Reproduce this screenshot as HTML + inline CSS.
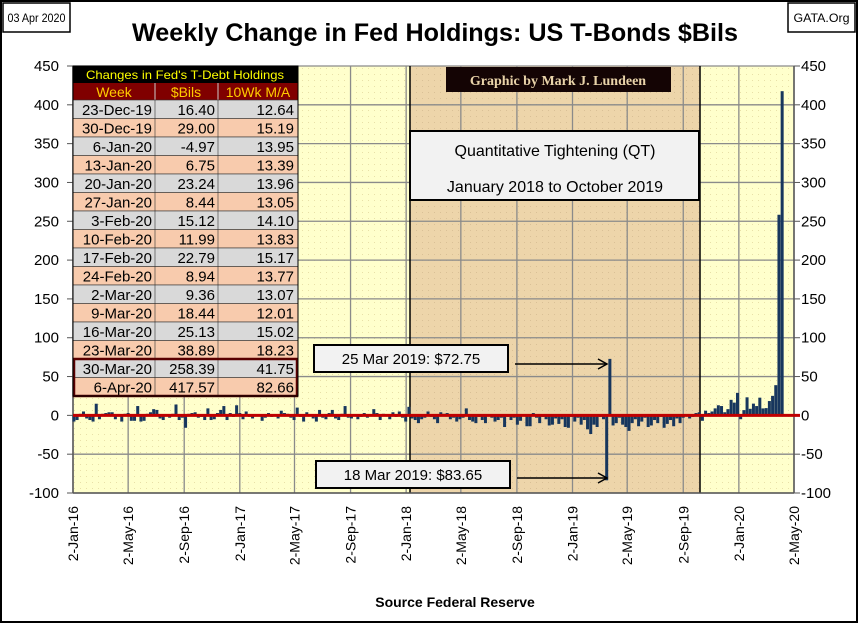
<!DOCTYPE html>
<html><head><meta charset="utf-8"><style>
html,body{margin:0;padding:0;background:#fff}
svg{display:block;font-family:"Liberation Sans",sans-serif}
</style></head><body>
<svg id="chart" width="858" height="623" viewBox="0 0 858 623" xmlns="http://www.w3.org/2000/svg">
<defs>
<pattern id="dotY" width="6" height="6" patternUnits="userSpaceOnUse"><rect width="6" height="6" fill="#FFFFCC"/><rect x="2" y="2" width="1" height="1" fill="#E8E0A8"/></pattern>
<pattern id="dotT" width="6" height="6" patternUnits="userSpaceOnUse"><rect width="6" height="6" fill="#EDD5AA"/><rect x="2" y="2" width="1" height="1" fill="#D9C096"/></pattern>
</defs>
<rect x="1" y="1" width="856" height="621" fill="#fff" stroke="#000" stroke-width="2"/>
<rect x="3" y="3" width="67" height="29" fill="#fff" stroke="#000" stroke-width="1.5"/>
<text x="36.5" y="22" font-size="12" text-anchor="middle" textLength="58" lengthAdjust="spacingAndGlyphs">03 Apr 2020</text>
<rect x="788" y="3" width="67" height="29" fill="#fff" stroke="#000" stroke-width="1.5"/>
<text x="821.5" y="22" font-size="12" text-anchor="middle" textLength="56" lengthAdjust="spacingAndGlyphs">GATA.Org</text>
<text x="435" y="41" font-size="25" font-weight="bold" text-anchor="middle" textLength="606" lengthAdjust="spacingAndGlyphs">Weekly Change in Fed Holdings:  US T-Bonds $Bils</text>
<g id="plot"></g>
<text x="455" y="607" font-size="14" font-weight="bold" text-anchor="middle">Source Federal Reserve</text>
</svg>
<script>
const yTicks=[450,400,350,300,250,200,150,100,50,0,-50,-100];
const xTickLabels=["2-Jan-16","2-May-16","2-Sep-16","2-Jan-17","2-May-17","2-Sep-17","2-Jan-18","2-May-18","2-Sep-18","2-Jan-19","2-May-19","2-Sep-19","2-Jan-20","2-May-20"];
const xTickDates=["2016-01-02","2016-05-02","2016-09-02","2017-01-02","2017-05-02","2017-09-02","2018-01-02","2018-05-02","2018-09-02","2019-01-02","2019-05-02","2019-09-02","2020-01-02","2020-05-02"];
const firstWeek="2016-01-04";
const weeklyChange=[
-8,-6,2,5,-4,-6,-8,15,-5,2,3,4,4,-5,1,-8,2,3,-7,-7,12,-8,-7,2,4,8,7,-4,-6,1,-3,2,14,-6,-3,-16,2,3,4,-3,-2,-6,9,-6,-5,3,7,12,-6,3,-2,13,
3,-5,5,-2,-4,0,1,-7,-3,3,-2,1,-4,6,3,2,-3,-6,10,-2,-8,4,1,-4,-8,7,-3,-5,3,7,-4,-6,2,12,-3,-4,1,-5,-2,3,-3,-1,8,3,-6,2,0,-5,4,-2,5,-3,
-8,11,-4,-6,-10,-5,-3,5,-2,-5,-10,4,2,3,-5,-3,-8,-5,-3,9,-6,-8,-10,-2,-6,-10,0,-3,-8,-6,-3,-15,-2,-6,-3,-12,-7,1,-14,-14,3,-3,-10,-2,-5,-13,-12,-4,-11,-5,-15,-16,-2,-8,-3,-12,-6,-18,-24,-12,-15,-2,-5,-83.65,72.75,-13,-10,-3,-12,-15,-20,-10,-5,-14,-8,-3,-15,-13,-6,-10,-2,-16,-11,-6,-14,-4,-10,-3,-1,-4,-2,3,4,
-7,6,3,5,9,13,12,4,8,20,
16.40,29.00,-4.97,6.75,23.24,8.44,15.12,11.99,22.79,8.94,9.36,18.44,25.13,38.89,258.39,417.57];
const tableWeeks=["23-Dec-19","30-Dec-19","6-Jan-20","13-Jan-20","20-Jan-20","27-Jan-20","3-Feb-20","10-Feb-20","17-Feb-20","24-Feb-20","2-Mar-20","9-Mar-20","16-Mar-20","23-Mar-20","30-Mar-20","6-Apr-20"];
const tableBils=["16.40","29.00","-4.97","6.75","23.24","8.44","15.12","11.99","22.79","8.94","9.36","18.44","25.13","38.89","258.39","417.57"];
const tableMA=["12.64","15.19","13.95","13.39","13.96","13.05","14.10","13.83","15.17","13.77","13.07","12.01","15.02","18.23","41.75","82.66"];

const NS="http://www.w3.org/2000/svg";
const g=document.getElementById('plot');
const X0=73,X1=794,YT=66,YB=493;
const d0=Date.parse("2016-01-02"),d1=Date.parse("2020-05-02");
const xS=t=>X0+(t-d0)/(d1-d0)*(X1-X0);
const yS=v=>YB-(v+100)/550*(YB-YT);
function mk(tag,at,parent){const e=document.createElementNS(NS,tag);for(const k in at)e.setAttribute(k,at[k]);(parent||g).appendChild(e);return e;}
let e=mk('rect',{x:X0,y:YT,width:X1-X0,height:YB-YT,fill:'url(#dotY)'});


const qs=410,qe=700;
e=mk('rect',{x:qs,y:YT,width:qe-qs,height:YB-YT,fill:'url(#dotT)'});


yTicks.forEach(v=>{
 const y=yS(v);
 e=mk('line',{x1:X0,x2:X1,y1:y,y2:y,stroke:'#8a8a8a','stroke-width':1.3});
 
 
 e=mk('line',{x1:X0-6,x2:X0,y1:y,y2:y,stroke:'#555'});
 e=mk('line',{x1:X1,x2:X1+6,y1:y,y2:y,stroke:'#555'});
 e=mk('text',{x:59,y:y+5,'font-size':15,'text-anchor':'end'});e.textContent=v;
 
 
 e=mk('text',{x:801,y:y+5,'font-size':15});e.textContent=v;
 
 
});
xTickDates.forEach((d,i)=>{
 const x=xS(Date.parse(d));
 e=mk('line',{x1:x,x2:x,y1:YT,y2:YB,stroke:'#8a8a8a','stroke-width':1.3});
 
 
 e=mk('text',{x:0,y:0,'font-size':14,'text-anchor':'end',transform:`translate(${x+5},${YB+13}) rotate(-90)`});
 e.textContent=xTickLabels[i];
 
 
});
mk('line',{x1:qs,x2:qs,y1:YT,y2:YB,stroke:'#000','stroke-width':1.5});
mk('line',{x1:qe,x2:qe,y1:YT,y2:YB,stroke:'#000','stroke-width':1.5});
mk('line',{x1:X0,x2:X0,y1:YT,y2:YB,stroke:'#555','stroke-width':1.5});
mk('line',{x1:X1,x2:X1,y1:YT,y2:YB,stroke:'#555','stroke-width':1.5});
mk('line',{x1:X0,x2:X1,y1:YB,y2:YB,stroke:'#555','stroke-width':1.5});
const w0=Date.parse(firstWeek);
weeklyChange.forEach((v,i)=>{
 const x=xS(w0+i*7*864e5);
 const y0=yS(0),y=yS(v);
 e=mk('rect',{x:x-1.5,y:Math.min(y,y0),width:3,height:Math.max(Math.abs(y-y0),0.5),fill:'#17365D'});
 
 
});
e=mk('line',{x1:X0,x2:X1+6,y1:yS(0),y2:yS(0),stroke:'#C00000','stroke-width':3});


const tb=mk('g',{});


mk('rect',{x:73,y:66,width:225,height:17,fill:'#000'},tb);
e=mk('text',{x:185,y:79,'font-size':12,fill:'#FFFF00','text-anchor':'middle',textLength:198,lengthAdjust:'spacingAndGlyphs'},tb);
e.textContent="Changes in Fed's T-Debt Holdings";


mk('rect',{x:73,y:83,width:225,height:17,fill:'#800000'},tb);
[["Week",114],["$Bils",186],["10Wk M/A",258]].forEach(([t,x])=>{e=mk('text',{x:x,y:97,'font-size':14,fill:'#FFCC00','text-anchor':'middle'},tb);e.textContent=t;
 
 });
mk('line',{x1:155,x2:155,y1:83,y2:100,stroke:'#ccc'},tb);mk('line',{x1:218,x2:218,y1:83,y2:100,stroke:'#ccc'},tb);
const rh=18.5;
tableWeeks.forEach((w,i)=>{
 const y=100+i*rh;
 mk('rect',{x:73,y:y,width:225,height:rh,fill:i%2?'#F8CBAD':'#D9D9D9',stroke:'#333','stroke-width':0.6},tb);
 mk('line',{x1:155,x2:155,y1:y,y2:y+rh,stroke:'#333','stroke-width':0.6},tb);
 mk('line',{x1:218,x2:218,y1:y,y2:y+rh,stroke:'#333','stroke-width':0.6},tb);
 e=mk('text',{x:152,y:y+15,'font-size':15,'text-anchor':'end'},tb);e.textContent=w;
 
 
 e=mk('text',{x:215,y:y+15,'font-size':15,'text-anchor':'end'},tb);e.textContent=tableBils[i];
 
 
 e=mk('text',{x:294,y:y+15,'font-size':15,'text-anchor':'end'},tb);e.textContent=tableMA[i];
 
 
});
mk('rect',{x:74,y:100+14*rh,width:223,height:2*rh,fill:'none',stroke:'#5a0000','stroke-width':2.5},tb);
mk('rect',{x:73,y:66,width:225,height:100+16*rh-66,fill:'none',stroke:'#000','stroke-width':1},tb);
mk('rect',{x:446,y:67,width:225,height:25,fill:'#140404'});
e=mk('text',{x:558,y:85,'font-size':14,'font-weight':'bold',fill:'#E9D3A9','text-anchor':'middle','font-family':'Liberation Serif,serif'});
e.textContent="Graphic by Mark J. Lundeen";


mk('rect',{x:410,y:131,width:289,height:69,fill:'#F2F2F2',stroke:'#000','stroke-width':2});
e=mk('text',{x:555,y:156,'font-size':16,'text-anchor':'middle'});e.textContent="Quantitative Tightening (QT)";


e=mk('text',{x:555,y:192,'font-size':16,'text-anchor':'middle'});e.textContent="January 2018 to October 2019";


function ann(bx,by,txt,ay,ax,name){
 mk('rect',{x:bx,y:by,width:194,height:27,fill:'#F2F2F2',stroke:'#000','stroke-width':2});
 const t=mk('text',{x:bx+97,y:by+19,'font-size':15,'text-anchor':'middle'});t.textContent=txt;
 
 
 mk('line',{x1:bx+201,x2:ax,y1:ay,y2:ay,stroke:'#000','stroke-width':1.5});
 mk('path',{d:`M${ax-9},${ay-5} L${ax},${ay} L${ax-9},${ay+5}`,fill:'none',stroke:'#000','stroke-width':1.5});
}
ann(314,345,"25 Mar 2019: $72.75",364,607,'annotation-high');
ann(316,461,"18 Mar 2019: $83.65",478,607,'annotation-low');
</script>
</body></html>
